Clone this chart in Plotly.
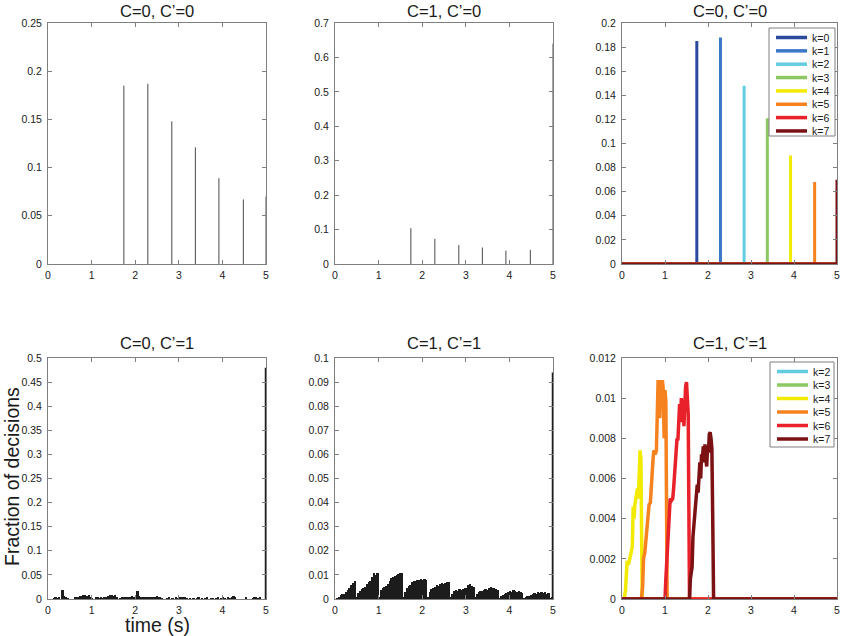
import plotly.graph_objects as go

# ---------------- data ----------------
x_ticks = [0, 1, 2, 3, 4, 5]
x_ticklabels = ["0", "1", "2", "3", "4", "5"]

# top-left: C=0, C'=0 (stems)
tl_times = [1.74, 2.29, 2.84, 3.38, 3.92, 4.48, 5.0]
tl_values = [0.185, 0.187, 0.148, 0.121, 0.089, 0.067, 0.070]
tl_yticks = [0, 0.05, 0.1, 0.15, 0.2, 0.25]
tl_yticklabels = ["0", "0.05", "0.1", "0.15", "0.2", "0.25"]

# top-middle: C=1, C'=0 (stems)
tm_times = [1.74, 2.29, 2.84, 3.38, 3.92, 4.48, 5.0]
tm_values = [0.104, 0.073, 0.055, 0.048, 0.039, 0.041, 0.640]
tm_yticks = [0, 0.1, 0.2, 0.3, 0.4, 0.5, 0.6, 0.7]
tm_yticklabels = ["0", "0.1", "0.2", "0.3", "0.4", "0.5", "0.6", "0.7"]

# top-right: C=0, C'=0 split by k
k_labels_top = ["k=0", "k=1", "k=2", "k=3", "k=4", "k=5", "k=6", "k=7"]
k_colors_top = ["#2b4a9e", "#3a78c6", "#62cde0", "#8cc862", "#f2ea00",
                "#f5821f", "#e8212b", "#7b1113"]
tr_times = [1.74, 2.29, 2.84, 3.38, 3.92, 4.48, None, 5.0]
tr_values = [0.185, 0.188, 0.148, 0.121, 0.090, 0.068, 0.0, 0.070]
tr_yticks = [0, 0.02, 0.04, 0.06, 0.08, 0.1, 0.12, 0.14, 0.16, 0.18, 0.2]
tr_yticklabels = ["0", "0.02", "0.04", "0.06", "0.08", "0.1", "0.12", "0.14",
                  "0.16", "0.18", "0.2"]

# bottom histograms: bin width 0.04 s, bins starting at 0
bin_width = 0.04
bl_values = [0, 0, 0, 0.002, 0.003, 0.002, 0.003, 0, 0.018, 0.006,
             0.004, 0.002, 0, 0, 0, 0.003, 0.004, 0.004, 0.006, 0.007,
             0.008, 0.009, 0.007, 0.008, 0.005, 0.002, 0, 0.003, 0.003, 0.002,
             0.003, 0.002, 0.004, 0.005, 0.007, 0.008, 0.009, 0.007, 0.008, 0.003,
             0, 0.002, 0.004, 0.003, 0.005, 0.004, 0.005, 0.003, 0.006, 0.005,
             0.007, 0.016, 0.006, 0.005, 0.003, 0.004, 0.004, 0.003, 0.004, 0.005,
             0.003, 0.004, 0.006, 0.004, 0.005, 0.002, 0, 0, 0.002, 0.003,
             0, 0.002, 0, 0.003, 0.002, 0.004, 0.003, 0.005, 0.003, 0.002,
             0, 0.002, 0, 0.002, 0, 0.002, 0.003, 0, 0.002, 0,
             0.002, 0.003, 0, 0.002, 0.002, 0, 0.002, 0.003, 0, 0.002,
             0.003, 0.002, 0, 0.003, 0.002, 0.004, 0.006, 0.003, 0, 0,
             0, 0, 0, 0.005, 0, 0, 0, 0.002, 0.003, 0.003,
             0.002, 0.003, 0, 0, 0]
bl_end_value = 0.48
bl_yticks = [0, 0.05, 0.1, 0.15, 0.2, 0.25, 0.3, 0.35, 0.4, 0.45, 0.5]
bl_yticklabels = ["0", "0.05", "0.1", "0.15", "0.2", "0.25", "0.3", "0.35",
                  "0.4", "0.45", "0.5"]

bm_values = [0, 0.0002, 0.0008, 0.0015, 0.0019, 0.0022, 0.0030, 0.0038, 0.0047, 0.0058,
             0.0068, 0.0073, 0.0006, 0.0024, 0.0033, 0.0040, 0.0046, 0.0050, 0.0062, 0.0070,
             0.0074, 0.0092, 0.0108, 0.0098, 0.0107, 0.0010, 0.0038, 0.0046, 0.0050, 0.0053,
             0.0064, 0.0075, 0.0086, 0.0090, 0.0097, 0.0100, 0.0103, 0.0106, 0.0108, 0.0008,
             0.0030, 0.0046, 0.0053, 0.0058, 0.0070, 0.0075, 0.0076, 0.0080, 0.0078, 0.0081,
             0.0079, 0.0082, 0.0080, 0.0008, 0.0027, 0.0040, 0.0045, 0.0050, 0.0058, 0.0055,
             0.0062, 0.0066, 0.0063, 0.0068, 0.0070, 0.0069, 0.0005, 0.0022, 0.0033, 0.0036,
             0.0035, 0.0040, 0.0038, 0.0043, 0.0047, 0.0044, 0.0057, 0.0064, 0.0052, 0.0049,
             0.0005, 0.0020, 0.0031, 0.0035, 0.0033, 0.0036, 0.0040, 0.0038, 0.0046, 0.0050,
             0.0044, 0.0047, 0.0043, 0.0036, 0.0004, 0.0012, 0.0018, 0.0022, 0.0026, 0.0029,
             0.0033, 0.0031, 0.0036, 0.0034, 0.0030, 0.0032, 0.0028, 0.0025, 0.0003, 0.0007,
             0.0011, 0.0013, 0.0017, 0.0020, 0.0024, 0.0022, 0.0027, 0.0025, 0.0029, 0.0026,
             0.0028, 0.0022, 0.0026, 0.0004, 0.0006]
bm_end_value = 0.094
bm_yticks = [0, 0.01, 0.02, 0.03, 0.04, 0.05, 0.06, 0.07, 0.08, 0.09, 0.1]
bm_yticklabels = ["0", "0.01", "0.02", "0.03", "0.04", "0.05", "0.06", "0.07",
                  "0.08", "0.09", "0.1"]

# bottom-right: C=1, C'=1 split by k
k_labels_bot = ["k=2", "k=3", "k=4", "k=5", "k=6", "k=7"]
k_colors_bot = ["#62cde0", "#8cc862", "#f2ea00", "#f5821f", "#e8212b", "#7b1113"]
k2_t = [0, 5]
k2_v = [0, 0]
k3_t = [0, 5]
k3_v = [0, 0]
k4_t = [0, 0.05, 0.08, 0.10, 0.12, 0.15, 0.18, 0.21, 0.24, 0.26, 0.28, 0.30, 0.33,
        0.36, 0.38, 0.40, 0.42, 0.44, 0.46, 0.47, 5]
k4_v = [0, 0, 0.0004, 0.0012, 0.0019, 0.0017, 0.0020, 0.0022, 0.0026, 0.0046, 0.0040,
        0.0047, 0.0052, 0.0055, 0.0050, 0.0064, 0.0074, 0.0070, 0.0020, 0, 0]
k5_t = [0, 0.45, 0.48, 0.50, 0.53, 0.56, 0.58, 0.61, 0.63, 0.66, 0.68, 0.70, 0.72,
        0.74, 0.77, 0.80, 0.82, 0.84, 0.86, 0.88, 0.90, 0.92, 0.94, 0.96, 0.98,
        1.00, 1.02, 1.04, 1.05, 5]
k5_v = [0, 0, 0.0006, 0.0020, 0.0023, 0.0030, 0.0038, 0.0041, 0.0047, 0.0048, 0.0057,
        0.0058, 0.0069, 0.0074, 0.0072, 0.0074, 0.0088, 0.0109, 0.0100, 0.0090, 0.0109,
        0.0095, 0.0109, 0.0104, 0.0080, 0.0104, 0.0098, 0.0030, 0, 0]
k6_t = [0, 1.00, 1.02, 1.04, 1.06, 1.08, 1.10, 1.12, 1.15, 1.18, 1.20, 1.22, 1.24,
        1.26, 1.28, 1.30, 1.32, 1.34, 1.36, 1.38, 1.40, 1.42, 1.44, 1.46, 1.48,
        1.50, 1.52, 1.54, 1.55, 1.57, 5]
k6_v = [0, 0, 0.0010, 0.0019, 0.0030, 0.0036, 0.0046, 0.0050, 0.0049, 0.0050, 0.0055,
        0.0063, 0.0066, 0.0071, 0.0080, 0.0079, 0.0094, 0.0097, 0.0088, 0.0100, 0.0092,
        0.0099, 0.0086, 0.0101, 0.0106, 0.0108, 0.0102, 0.0092, 0.0060, 0, 0]
k7_t = [0, 1.57, 1.59, 1.61, 1.63, 1.65, 1.67, 1.69, 1.71, 1.73, 1.75, 1.77, 1.79,
        1.81, 1.83, 1.85, 1.87, 1.89, 1.91, 1.93, 1.95, 1.97, 1.99, 2.01, 2.03,
        2.05, 2.07, 2.09, 2.11, 2.13, 5]
k7_v = [0, 0, 0.0010, 0.0014, 0.0016, 0.0031, 0.0036, 0.0040, 0.0046, 0.0054, 0.0057,
        0.0053, 0.0065, 0.0068, 0.0060, 0.0072, 0.0070, 0.0076, 0.0068, 0.0077, 0.0070,
        0.0066, 0.0076, 0.0073, 0.0082, 0.0083, 0.0080, 0.0075, 0.0040, 0, 0]
br_yticks = [0, 0.002, 0.004, 0.006, 0.008, 0.01, 0.012]
br_yticklabels = ["0", "0.002", "0.004", "0.006", "0.008", "0.01", "0.012"]

titles = ["C=0, C\u2019=0", "C=1, C\u2019=0", "C=0, C\u2019=0",
          "C=0, C\u2019=1", "C=1, C\u2019=1", "C=1, C\u2019=1"]
y_label = "Fraction of decisions"
x_label = "time (s)"

# ---------------- layout geometry (pixels) ----------------
W, H = 843, 636
col_px = [(48, 266), (335, 553), (622, 837)]
row_px = [(23, 264), (358, 599)]
FONT = "Liberation Sans, Arial, Helvetica, sans-serif"
TICK_SIZE = 10.5
TITLE_SIZE = 16.5


def px_x(p):
    return p / W


def px_y(p):
    return 1 - p / H


fig = go.Figure()

axes = []
for r in range(2):
    for c in range(3):
        axes.append((r, c))


def axref(i):
    return ("x" if i == 0 else f"x{i+1}", "y" if i == 0 else f"y{i+1}")


def stems(times, values):
    xs, ys = [], []
    for t, v in zip(times, values):
        xs += [t, t, None]
        ys += [0, v, None]
    return xs, ys


stem_color = "#4a4a4a"
hist_color = "#1c1c1c"

xs, ys = stems(tl_times, tl_values)
fig.add_trace(go.Scatter(x=xs, y=ys, mode="lines", line=dict(color=stem_color, width=1),
                         xaxis="x", yaxis="y", showlegend=False, hoverinfo="skip"))
xs, ys = stems(tm_times, tm_values)
fig.add_trace(go.Scatter(x=xs, y=ys, mode="lines", line=dict(color=stem_color, width=1),
                         xaxis="x2", yaxis="y2", showlegend=False, hoverinfo="skip"))
for lab, col, t, v in zip(k_labels_top, k_colors_top, tr_times, tr_values):
    if t is None:
        tx, ty = [0, 5], [0, 0]
    elif t >= 5:
        tx, ty = [0, t, t], [0, 0, v]
    else:
        tx, ty = [0, t, t, t, 5], [0, 0, v, 0, 0]
    fig.add_trace(go.Scatter(x=tx, y=ty, mode="lines", name=lab,
                             line=dict(color=col, width=3),
                             xaxis="x3", yaxis="y3", showlegend=False))

centers = [bin_width * (i + 0.5) for i in range(len(bl_values))]
fig.add_trace(go.Bar(x=centers, y=bl_values, width=bin_width,
                     marker=dict(color=hist_color, line=dict(width=0)),
                     xaxis="x4", yaxis="y4", showlegend=False))
fig.add_trace(go.Scatter(x=[5, 5], y=[0, bl_end_value], mode="lines",
                         line=dict(color=hist_color, width=2.5),
                         xaxis="x4", yaxis="y4", showlegend=False))
centers = [bin_width * (i + 0.5) for i in range(len(bm_values))]
fig.add_trace(go.Bar(x=centers, y=bm_values, width=bin_width,
                     marker=dict(color=hist_color, line=dict(width=0)),
                     xaxis="x5", yaxis="y5", showlegend=False))
fig.add_trace(go.Scatter(x=[5, 5], y=[0, bm_end_value], mode="lines",
                         line=dict(color=hist_color, width=2.5),
                         xaxis="x5", yaxis="y5", showlegend=False))
bot_series = [(k2_t, k2_v), (k3_t, k3_v), (k4_t, k4_v), (k5_t, k5_v), (k6_t, k6_v), (k7_t, k7_v)]
for lab, col, (t, v) in zip(k_labels_bot, k_colors_bot, bot_series):
    fig.add_trace(go.Scatter(x=t, y=v, mode="lines", name=lab,
                             line=dict(color=col, width=3.5),
                             xaxis="x6", yaxis="y6", showlegend=False))

y_ticks_all = [(tl_yticks, tl_yticklabels), (tm_yticks, tm_yticklabels), (tr_yticks, tr_yticklabels),
               (bl_yticks, bl_yticklabels), (bm_yticks, bm_yticklabels), (br_yticks, br_yticklabels)]

layout = dict(width=W, height=H, margin=dict(l=0, r=0, t=0, b=0), autosize=False,
              paper_bgcolor="white", plot_bgcolor="white", bargap=0,
              font=dict(family=FONT, color="#1a1a1a", size=11))

axis_common = dict(showline=True, linecolor="#7f7f7f", linewidth=1, mirror="ticks",
                   ticks="inside", ticklen=4, tickcolor="#7f7f7f", showgrid=False,
                   zeroline=False, automargin=False,
                   tickfont=dict(family=FONT, size=TICK_SIZE, color="#1a1a1a"))

annotations = []
for i, (r, c) in enumerate(axes):
    xn = "xaxis" if i == 0 else f"xaxis{i+1}"
    yn = "yaxis" if i == 0 else f"yaxis{i+1}"
    xref, yref = axref(i)
    x0, x1 = col_px[c]
    y0, y1 = row_px[r]
    yt, ytl = y_ticks_all[i]
    layout[xn] = dict(axis_common, domain=[px_x(x0), px_x(x1)], range=[0, 5],
                      tickvals=x_ticks, ticktext=x_ticklabels, anchor=yref, ticklabelstandoff=1)
    layout[yn] = dict(axis_common, domain=[px_y(y1), px_y(y0)], range=[0, yt[-1]],
                      tickvals=yt, ticktext=ytl, anchor=xref, ticklabelstandoff=3)
    if r == 0:
        title_y, title_anchor = px_y(0), "top"
    else:
        title_y, title_anchor = px_y(y0 - 15), "middle"
    annotations.append(dict(text=titles[i], x=px_x((x0 + x1) / 2), y=title_y,
                            xref="paper", yref="paper", showarrow=False,
                            xanchor="center", yanchor=title_anchor,
                            font=dict(family=FONT, size=TITLE_SIZE, color="#1a1a1a")))

annotations.append(dict(text=y_label, x=0, y=px_y(477), xref="paper", yref="paper",
                        showarrow=False, textangle=-90, xanchor="left", yanchor="middle",
                        borderpad=0,
                        font=dict(family=FONT, size=19.5, color="#1a1a1a")))
annotations.append(dict(text=x_label, x=px_x(157), y=px_y(625), xref="paper", yref="paper",
                        showarrow=False, xanchor="center", yanchor="middle",
                        font=dict(family=FONT, size=19.5, color="#1a1a1a")))

shapes = []


def add_legend(labels, colors, box, first_row_y, row_gap):
    bx0, by0, bx1, by1 = box
    shapes.append(dict(type="rect", xref="paper", yref="paper",
                       x0=px_x(bx0), x1=px_x(bx1), y0=px_y(by1), y1=px_y(by0),
                       line=dict(color="#7f7f7f", width=1), fillcolor="white", layer="above"))
    for j, (lab, col) in enumerate(zip(labels, colors)):
        yy = first_row_y + j * row_gap
        shapes.append(dict(type="line", xref="paper", yref="paper",
                           x0=px_x(bx0 + 7), x1=px_x(bx0 + 38), y0=px_y(yy), y1=px_y(yy),
                           line=dict(color=col, width=3.5), layer="above"))
        annotations.append(dict(text=lab, x=px_x(bx0 + 41), y=px_y(yy), xref="paper", yref="paper",
                                showarrow=False, xanchor="left", yanchor="middle",
                                font=dict(family=FONT, size=10.5, color="#1a1a1a")))


add_legend(k_labels_top, k_colors_top, (769, 28, 835, 136), 37.5, 13.35)
add_legend(k_labels_bot, k_colors_bot, (770, 362, 834, 447), 371.5, 13.5)

layout["annotations"] = annotations
layout["shapes"] = shapes
fig.update_layout(**layout)

fig.write_html(
    "out.html",
    config={"displayModeBar": False},
    post_script="document.body.style.margin='0px';document.body.style.padding='0px';"
                "document.body.style.overflow='hidden';",
)
